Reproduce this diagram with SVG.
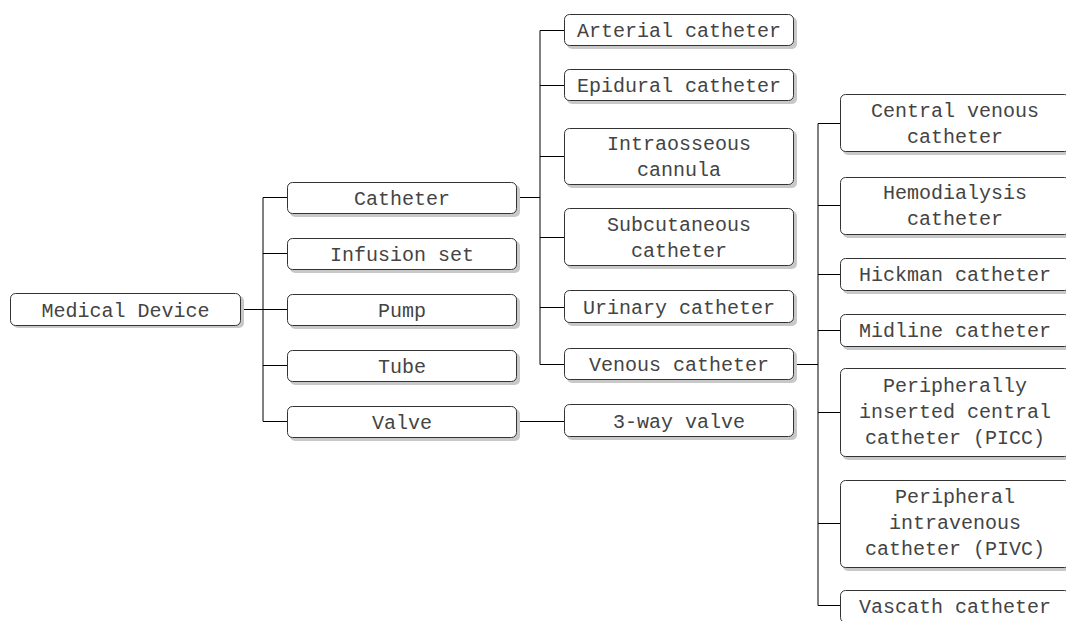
<svg xmlns="http://www.w3.org/2000/svg" width="1066" height="621" viewBox="0 0 1066 621">
<style>
.sh{fill:#c8c8c8}
.bx{fill:#fff;stroke:#333;stroke-width:1}
.t{font-family:"Liberation Mono","Courier New",monospace;font-size:20px;fill:#444;text-anchor:middle}
.c{fill:none;stroke:#000;stroke-width:1}
</style>
<rect width="1066" height="621" fill="#fff"/>
<g id="connectors">
<path class="c" d="M241 309.5H287M263 197.5V421.5M263 197.5H287M263 253.5H287M263 365.5H287M263 421.5H564"/>
<path class="c" d="M517 197.5H540M540 30.5V364.5M540 30.5H564M540 85.5H564M540 156.5H564M540 237.5H564M540 307.5H564M540 364.5H564"/>
<path class="c" d="M794 364.5H818M818 123.5V605.5M818 123.5H840M818 205.5H840M818 274.5H840M818 330.5H840M818 412.5H840M818 523.5H840M818 605.5H840"/>
</g>
<g id="n-medical"><rect class="sh" x="13" y="296" width="231" height="32" rx="5"/><rect class="bx" x="10.5" y="293.5" width="230" height="32" rx="5"/><text class="t" x="125.5" y="316.5">Medical Device</text></g>
<g id="n-catheter"><rect class="sh" x="290" y="185" width="230" height="32" rx="5"/><rect class="bx" x="287.5" y="182.5" width="229" height="31" rx="5"/><text class="t" x="402" y="204.5">Catheter</text></g>
<g id="n-infusion"><rect class="sh" x="290" y="241" width="230" height="32" rx="5"/><rect class="bx" x="287.5" y="238.5" width="229" height="31" rx="5"/><text class="t" x="402" y="260.5">Infusion set</text></g>
<g id="n-pump"><rect class="sh" x="290" y="297" width="230" height="32" rx="5"/><rect class="bx" x="287.5" y="294.5" width="229" height="31" rx="5"/><text class="t" x="402" y="316.5">Pump</text></g>
<g id="n-tube"><rect class="sh" x="290" y="353" width="230" height="32" rx="5"/><rect class="bx" x="287.5" y="350.5" width="229" height="31" rx="5"/><text class="t" x="402" y="372.5">Tube</text></g>
<g id="n-valve"><rect class="sh" x="290" y="409" width="230" height="32" rx="5"/><rect class="bx" x="287.5" y="406.5" width="229" height="31" rx="5"/><text class="t" x="402" y="428.5">Valve</text></g>
<g id="n-arterial"><rect class="sh" x="567" y="17" width="230" height="32" rx="5"/><rect class="bx" x="564.5" y="14.5" width="229" height="31" rx="5"/><text class="t" x="679" y="37">Arterial catheter</text></g>
<g id="n-epidural"><rect class="sh" x="567" y="72" width="230" height="32" rx="5"/><rect class="bx" x="564.5" y="69.5" width="229" height="31" rx="5"/><text class="t" x="679" y="92">Epidural catheter</text></g>
<g id="n-intraosseous"><rect class="sh" x="567" y="131" width="230" height="57" rx="5"/><rect class="bx" x="564.5" y="128.5" width="229" height="56" rx="5"/><text class="t" x="679" y="150">Intraosseous</text><text class="t" x="679" y="176">cannula</text></g>
<g id="n-subcutaneous"><rect class="sh" x="567" y="211" width="230" height="58" rx="5"/><rect class="bx" x="564.5" y="208.5" width="229" height="57" rx="5"/><text class="t" x="679" y="231">Subcutaneous</text><text class="t" x="679" y="257">catheter</text></g>
<g id="n-urinary"><rect class="sh" x="567" y="293" width="230" height="33" rx="5"/><rect class="bx" x="564.5" y="290.5" width="229" height="32" rx="5"/><text class="t" x="679" y="314">Urinary catheter</text></g>
<g id="n-venous"><rect class="sh" x="567" y="351" width="230" height="32" rx="5"/><rect class="bx" x="564.5" y="348.5" width="229" height="31" rx="5"/><text class="t" x="679" y="371">Venous catheter</text></g>
<g id="n-3way"><rect class="sh" x="567" y="407" width="230" height="33" rx="5"/><rect class="bx" x="564.5" y="404.5" width="229" height="32" rx="5"/><text class="t" x="679" y="428">3-way valve</text></g>
<g id="n-central"><rect class="sh" x="843" y="97" width="230" height="58" rx="5"/><rect class="bx" x="840.5" y="94.5" width="229" height="57" rx="5"/><text class="t" x="955" y="117">Central venous</text><text class="t" x="955" y="143">catheter</text></g>
<g id="n-hemodialysis"><rect class="sh" x="843" y="180" width="230" height="58" rx="5"/><rect class="bx" x="840.5" y="177.5" width="229" height="57" rx="5"/><text class="t" x="955" y="199">Hemodialysis</text><text class="t" x="955" y="225">catheter</text></g>
<g id="n-hickman"><rect class="sh" x="843" y="261" width="230" height="33" rx="5"/><rect class="bx" x="840.5" y="258.5" width="229" height="32" rx="5"/><text class="t" x="955" y="281">Hickman catheter</text></g>
<g id="n-midline"><rect class="sh" x="843" y="317" width="230" height="33" rx="5"/><rect class="bx" x="840.5" y="314.5" width="229" height="32" rx="5"/><text class="t" x="955" y="337">Midline catheter</text></g>
<g id="n-picc"><rect class="sh" x="843" y="371" width="230" height="89" rx="5"/><rect class="bx" x="840.5" y="368.5" width="229" height="88" rx="5"/><text class="t" x="955" y="392">Peripherally</text><text class="t" x="955" y="418">inserted central</text><text class="t" x="955" y="444">catheter (PICC)</text></g>
<g id="n-pivc"><rect class="sh" x="843" y="483" width="230" height="88" rx="5"/><rect class="bx" x="840.5" y="480.5" width="229" height="87" rx="5"/><text class="t" x="955" y="503">Peripheral</text><text class="t" x="955" y="529">intravenous</text><text class="t" x="955" y="555">catheter (PIVC)</text></g>
<g id="n-vascath"><rect class="sh" x="843" y="593" width="230" height="33" rx="5"/><rect class="bx" x="840.5" y="590.5" width="229" height="32" rx="5"/><text class="t" x="955" y="613">Vascath catheter</text></g>
</svg>
